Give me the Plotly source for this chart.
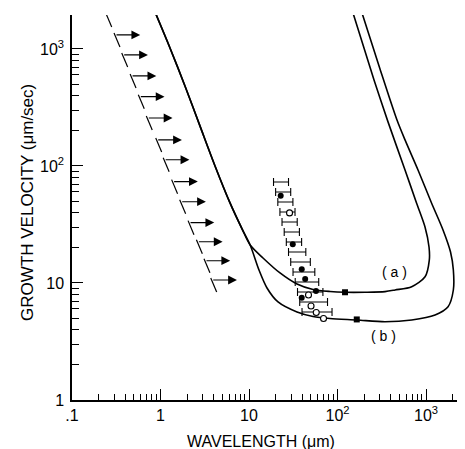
import numpy as np
import plotly.graph_objects as go

# ---------------- data ----------------
# marginal-stability curves (wavelength in um, velocity in um/s)
curve_a_x = [0.867, 1.28, 1.89, 2.79, 4.13, 6.10, 8.34, 10.3, 14.39, 22.4, 34.86, 52.9, 82.3,
             121.5, 204.5, 344, 447, 689, 975, 1089, 1081, 974, 781, 579, 372, 258.5, 149.6]
curve_a_v = [2070, 1020, 483, 220, 100, 48.3, 29.0, 21.1, 16.36, 12.18, 9.80, 8.80, 8.46,
             8.33, 8.33, 8.43, 8.71, 9.3, 11.3, 15.7, 20.3, 30.1, 48.3, 92.4, 238, 543, 2030]

curve_b_x = [0.867, 1.28, 1.89, 2.79, 4.13, 6.10, 8.34, 10.3, 12.97, 15.97, 21.27, 34.86, 52.9, 82.3,
             166, 344, 689, 1265, 1774, 2036, 2036, 1892, 1556, 1154, 812, 579, 470, 302, 189]
curve_b_v = [2070, 1020, 483, 220, 100, 48.3, 29.0, 21.1, 12.9, 9.06, 6.88, 5.65, 5.17, 4.97,
             4.83, 4.67, 4.83, 5.33, 6.27, 8.71, 12.9, 18.4, 28.4, 48.3, 92.4, 167, 247, 675, 2030]

# lower-limit markers (arrows pointing to larger wavelength)
limit_x = [0.247, 0.306, 0.374, 0.465, 0.576, 0.709, 0.906, 1.10, 1.37, 1.69, 2.10, 2.61, 3.18, 3.79]
limit_v = [1950, 1318, 889, 588, 391, 257, 167, 113, 73.5, 49.5, 32.8, 22.5, 15.5, 10.6]

# measured spacing ranges
band_v  = [72.98, 59.96, 49.25, 40.45, 33.22, 27.29, 22.41, 18.41, 15.12, 12.42, 10.20, 8.38, 6.88, 5.65]
band_lo = [18.92, 19.98, 21.16, 22.35, 23.60, 24.98, 26.39, 27.95, 29.59, 31.42, 33.27, 35.32, 37.41, 39.71]
band_hi = [27.95, 29.59, 31.33, 33.10, 35.05, 37.11, 39.30, 43.84, 49.28, 55.41, 61.34, 68.39, 77.09, 86.70]

# data points
filled_x = [22.8, 31.2, 39.4, 43.1, 39.4, 57.1]
filled_v = [55.7, 21.4, 13.1, 10.8, 7.47, 8.54]
open_x = [28.7, 47.0, 50.2, 57.5, 69.5]
open_v = [39.7, 7.89, 6.36, 5.60, 4.97]
curve_pts_x = [121.6, 165]
curve_pts_v = [8.33, 4.88]

x_tickvals = [0.1, 1, 10, 100, 1000]
x_ticktext = [".1", "1", "10", "10<sup>2</sup>", "10<sup>3</sup>"]
y_tickvals = [1, 10, 100, 1000]
y_ticktext = ["1", "10", "10<sup>2</sup>", "10<sup>3</sup>"]

# ---------------- figure ----------------
FONT = "Liberation Sans, Arial, sans-serif"
fig = go.Figure()

line_style = dict(color="black", width=1.6, shape="spline", smoothing=0.8)
fig.add_trace(go.Scatter(x=curve_a_x, y=curve_a_v, mode="lines", line=line_style, hoverinfo="skip"))
fig.add_trace(go.Scatter(x=curve_b_x, y=curve_b_v, mode="lines", line=line_style, hoverinfo="skip"))

# slanted ticks of the lower-limit markers
sx, sy = [], []
for x0, v0 in zip(limit_x, limit_v):
    sx += [x0 * 10 ** -0.011, x0 * 10 ** 0.056, None]
    sy += [v0 * 10 ** 0.017, v0 * 10 ** -0.103, None]
fig.add_trace(go.Scatter(x=sx, y=sy, mode="lines", line=dict(color="black", width=1.2), hoverinfo="skip"))

# range bars
band_c = [np.sqrt(a * b) for a, b in zip(band_lo, band_hi)]
fig.add_trace(go.Scatter(
    x=band_c, y=band_v, mode="markers", marker=dict(size=1, color="rgba(0,0,0,0)"),
    error_x=dict(type="data", symmetric=False,
                 array=[h - c for h, c in zip(band_hi, band_c)],
                 arrayminus=[c - l for c, l in zip(band_c, band_lo)],
                 color="black", thickness=1.1, width=4),
    hoverinfo="skip"))

fig.add_trace(go.Scatter(x=open_x, y=open_v, mode="markers",
                         marker=dict(symbol="circle", size=6, color="white",
                                     line=dict(color="black", width=1.1)), hoverinfo="skip"))
fig.add_trace(go.Scatter(x=filled_x, y=filled_v, mode="markers",
                         marker=dict(symbol="circle", size=6, color="black"), hoverinfo="skip"))
fig.add_trace(go.Scatter(x=curve_pts_x, y=curve_pts_v, mode="markers",
                         marker=dict(symbol="square", size=6, color="black"), hoverinfo="skip"))

annotations = []
for x0, v0 in zip(limit_x, limit_v):
    annotations.append(dict(
        x=np.log10(x0) + 0.285, y=np.log10(v0), xref="x", yref="y",
        ax=np.log10(x0), ay=np.log10(v0), axref="x", ayref="y",
        showarrow=True, arrowhead=2, arrowsize=1.6, arrowwidth=1.1, arrowcolor="black", text=""))

annotations.append(dict(x=np.log10(445), y=np.log10(12.4), xref="x", yref="y", text="( a )",
                        showarrow=False, font=dict(family=FONT, size=14, color="black")))
annotations.append(dict(x=np.log10(330), y=np.log10(3.52), xref="x", yref="y", text="( b )",
                        showarrow=False, font=dict(family=FONT, size=14, color="black")))

# axis titles
annotations.append(dict(x=0.492, y=0, xref="paper", yref="paper", yshift=-41,
                        xanchor="center", yanchor="middle", showarrow=False,
                        text="WAVELENGTH (μm)", font=dict(family=FONT, size=16, color="black")))
annotations.append(dict(x=0, y=0.512, xref="paper", yref="paper", xshift=-44,
                        xanchor="center", yanchor="middle", showarrow=False, textangle=-90,
                        text="GROWTH VELOCITY (μm/sec)", font=dict(family=FONT, size=17, color="black")))

minor_x = [k * 10.0 ** d for d in range(-1, 4) for k in range(2, 10) if k * 10.0 ** d < 2300]
minor_y = [k * 10.0 ** d for d in range(0, 4) for k in range(2, 10) if k * 10.0 ** d < 1960]

axis_common = dict(showline=True, linecolor="black", linewidth=1.5, showgrid=False, zeroline=False,
                   ticks="inside", ticklen=11, tickwidth=1.2, tickcolor="black", automargin=False,
                   tickfont=dict(family=FONT, size=16, color="black"), tickmode="array")

fig.update_layout(
    width=465, height=449,
    margin=dict(l=72, r=8, t=15, b=49),
    paper_bgcolor="white", plot_bgcolor="white",
    showlegend=False,
    annotations=annotations,
    xaxis=dict(type="log", range=[-1, 3.35], tickvals=x_tickvals, ticktext=x_ticktext,
               minor=dict(tickmode="array", tickvals=minor_x, ticks="inside", ticklen=6,
                          tickwidth=1.0, tickcolor="black", showgrid=False),
               **axis_common),
    yaxis=dict(type="log", range=[0, 3.29], tickvals=y_tickvals, ticktext=y_ticktext,
               minor=dict(tickmode="array", tickvals=minor_y, ticks="inside", ticklen=7,
                          tickwidth=1.0, tickcolor="black", showgrid=False),
               ticklabelstandoff=3,
               **axis_common),
)

fig.write_html("out.html", config={"displayModeBar": False},
               post_script="document.body.style.margin='0';document.body.style.overflow='hidden';")
